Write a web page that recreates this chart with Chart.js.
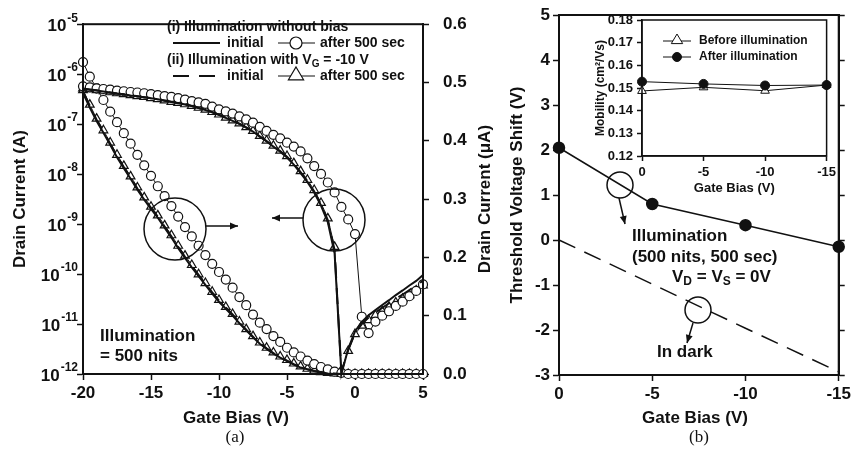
<!DOCTYPE html>
<html>
<head>
<meta charset="utf-8">
<script src="https://cdn.jsdelivr.net/npm/chart.js@4.4.1/dist/chart.umd.min.js"></script>
<style>
  body { margin: 0; background: #fff; width: 851px; height: 453px; overflow: hidden; position: relative; }
  canvas { position: absolute; }
  #chartA { left: 0; top: 0; }
  #chartB { left: 497px; top: 0; }
  #chartInset { left: 590px; top: 8px; }
</style>
</head>
<body>
<canvas id="chartA" width="500" height="453"></canvas>
<canvas id="chartB" width="357" height="453"></canvas>
<canvas id="chartInset" width="250" height="192"></canvas>
<script>
const INK = '#111';
const FONT = '"Liberation Sans", Arial, Helvetica, sans-serif';
Chart.defaults.font.family = FONT;
Chart.defaults.color = INK;

// ---- (a) transfer curves, gate bias in V ----
const gateBias = [-20,-19.5,-19,-18.5,-18,-17.5,-17,-16.5,-16,-15.5,-15,-14.5,-14,-13.5,-13,-12.5,-12,-11.5,-11,-10.5,
  -10,-9.5,-9,-8.5,-8,-7.5,-7,-6.5,-6,-5.5,-5,-4.5,-4,-3.5,-3,-2.5,-2,-1.5,-1,-0.5,0,0.5,1,1.5,2,2.5,3,3.5,4,4.5,5];

// drain current (A), log axis
const logInitNoBias = [5.1e-7,4.9e-7,4.7e-7,4.5e-7,4.3e-7,4.1e-7,3.95e-7,3.75e-7,3.6e-7,3.45e-7,3.3e-7,3.15e-7,2.95e-7,2.78e-7,2.62e-7,2.46e-7,2.3e-7,2.1e-7,1.92e-7,1.72e-7,
  1.53e-7,1.33e-7,1.16e-7,1.01e-7,8.5e-8,7.1e-8,5.6e-8,4.5e-8,3.55e-8,2.8e-8,2.15e-8,1.55e-8,1.05e-8,7.0e-9,4.3e-9,2.35e-9,1.1e-9,2.6e-10,1.0e-12,3.2e-12,
  7.1e-12,1.1e-11,1.5e-11,1.9e-11,2.4e-11,3.0e-11,3.8e-11,4.7e-11,5.9e-11,7.3e-11,9.6e-11];
const logAfterNoBias = [5.7e-7,5.45e-7,5.2e-7,5.05e-7,4.9e-7,4.7e-7,4.55e-7,4.4e-7,4.3e-7,4.15e-7,3.98e-7,3.8e-7,3.64e-7,3.5e-7,3.33e-7,3.1e-7,2.9e-7,2.72e-7,2.55e-7,2.25e-7,
  1.98e-7,1.8e-7,1.63e-7,1.43e-7,1.24e-7,1.07e-7,8.8e-8,7.3e-8,6.1e-8,5.2e-8,4.25e-8,3.55e-8,2.84e-8,2.07e-8,1.45e-8,1.01e-8,6.8e-9,4.3e-9,2.2e-9,1.24e-9,
  6.3e-10,1.4e-11,6.6e-12,1.12e-11,1.47e-11,1.8e-11,2.3e-11,2.8e-11,3.6e-11,4.6e-11,6.2e-11];
const logInitBias = [5.15e-7,4.95e-7,4.75e-7,4.52e-7,4.32e-7,4.12e-7,3.97e-7,3.78e-7,3.62e-7,3.47e-7,3.31e-7,3.16e-7,2.96e-7,2.79e-7,2.64e-7,2.48e-7,2.31e-7,2.11e-7,1.93e-7,1.73e-7,
  1.54e-7,1.34e-7,1.17e-7,1.02e-7,8.6e-8,7.2e-8,5.7e-8,4.6e-8,3.6e-8,2.88e-8,2.22e-8,1.6e-8,1.1e-8,7.3e-9,4.5e-9,2.5e-9,1.2e-9,3.0e-10,1.1e-12,3.0e-12,
  6.6e-12,1.0e-11,1.35e-11,1.7e-11,2.1e-11,2.6e-11,3.2e-11,3.9e-11,4.8e-11,5.9e-11,7.4e-11];
const logAfterBias = [5.2e-7,5.0e-7,4.8e-7,4.55e-7,4.35e-7,4.15e-7,4.0e-7,3.8e-7,3.65e-7,3.5e-7,3.33e-7,3.18e-7,2.98e-7,2.8e-7,2.66e-7,2.5e-7,2.33e-7,2.13e-7,1.95e-7,1.75e-7,
  1.56e-7,1.35e-7,1.19e-7,1.04e-7,8.7e-8,7.3e-8,5.8e-8,4.7e-8,3.7e-8,2.95e-8,2.3e-8,1.66e-8,1.15e-8,7.7e-9,4.8e-9,2.65e-9,1.3e-9,3.5e-10,1.2e-12,2.9e-12,
  6.3e-12,9.3e-12,1.2e-11,1.5e-11,1.8e-11,2.2e-11,2.7e-11,3.2e-11,3.8e-11,4.7e-11,5.9e-11];

// drain current (uA), linear axis
const linInitNoBias = [0.482,0.457,0.434,0.414,0.393,0.372,0.353,0.335,0.316,0.299,0.283,0.268,0.251,0.234,0.216,0.199,0.183,0.168,0.153,0.138,
  0.124,0.112,0.1,0.087,0.075,0.063,0.052,0.043,0.035,0.028,0.022,0.016,0.011,0.008,0.005,0.003,0.001,0,0,0,
  0,0,0,0,0,0,0,0,0,0,0];
const linAfterNoBias = [0.535,0.51,0.49,0.47,0.45,0.432,0.413,0.395,0.376,0.358,0.34,0.322,0.305,0.288,0.27,0.252,0.236,0.22,0.204,0.189,
  0.175,0.162,0.148,0.132,0.118,0.102,0.088,0.077,0.065,0.055,0.045,0.037,0.03,0.023,0.017,0.012,0.008,0.004,0.002,0,
  0,0,0,0,0,0,0,0,0,0,0];
const linInitBias = [0.485,0.46,0.436,0.416,0.395,0.374,0.355,0.337,0.318,0.301,0.285,0.27,0.253,0.236,0.218,0.201,0.185,0.17,0.155,0.14,
  0.126,0.114,0.102,0.089,0.076,0.064,0.053,0.044,0.036,0.029,0.023,0.017,0.012,0.008,0.005,0.003,0.002,0.001,0,0,
  0,0,0,0,0,0,0,0,0,0,0];
const linAfterBias = [0.487,0.462,0.438,0.418,0.397,0.376,0.357,0.339,0.32,0.303,0.287,0.272,0.255,0.238,0.22,0.203,0.187,0.171,0.156,0.141,
  0.127,0.115,0.103,0.09,0.077,0.065,0.054,0.045,0.037,0.03,0.024,0.018,0.013,0.009,0.006,0.003,0.002,0.001,0,0,
  0,0,0,0,0,0,0,0,0,0,0];

const logExponents = [-12,-11,-10,-9,-8,-7,-6,-5];

// ---- (b) threshold voltage shift ----
const stressBias = [0, -5, -10, -15];
const shiftIllum = [2.05, 0.80, 0.33, -0.15];
const shiftDark = [0, -0.98, -1.96, -2.93];
const mobilityBefore = [0.1487, 0.1503, 0.1488, 0.1513];
const mobilityAfter = [0.1528, 0.1518, 0.1511, 0.1513];

const pts = (xs, ys) => xs.map((x, i) => ({x: x, y: ys[i]}));
const bold = (size) => ({family: FONT, size: size, weight: 'bold'});
const tickGrid = {display: true, drawOnChartArea: false, drawTicks: true, tickLength: 6, color: INK, tickWidth: 1.5};
const border2 = {display: true, color: INK, width: 2};

function line(data, axis, dash) {
  return {data: data, yAxisID: axis, borderColor: INK, borderWidth: 2, borderDash: dash || [],
    pointRadius: 0, clip: false, tension: 0};
}
function marked(data, axis, style) {
  return {data: data, yAxisID: axis, borderColor: INK, borderWidth: 1, pointStyle: style,
    pointRadius: style === 'triangle' ? 5 : 4.5, pointBorderWidth: 1.2, pointBackgroundColor: '#fff',
    pointBorderColor: INK, clip: false, tension: 0};
}

function txt(ctx, s, x, y, size, align) {
  ctx.font = 'bold ' + size + 'px ' + FONT;
  ctx.textAlign = align || 'left';
  ctx.textBaseline = 'middle';
  ctx.fillText(s, x, y);
}
// parts: [text, isSubscript]
function richText(ctx, parts, x, y, size) {
  let cx = x;
  ctx.textAlign = 'left';
  ctx.textBaseline = 'middle';
  parts.forEach(([s, sub]) => {
    ctx.font = 'bold ' + (sub ? Math.round(size * 0.68) : size) + 'px ' + FONT;
    ctx.fillText(s, cx, y + (sub ? size * 0.3 : 0));
    cx += ctx.measureText(s).width;
  });
}
function arrow(ctx, x1, y1, x2, y2) {
  ctx.beginPath(); ctx.moveTo(x1, y1); ctx.lineTo(x2, y2); ctx.stroke();
  const a = Math.atan2(y2 - y1, x2 - x1), L = 8, W = 3.5;
  ctx.beginPath();
  ctx.moveTo(x2, y2);
  ctx.lineTo(x2 - L * Math.cos(a) + W * Math.sin(a), y2 - L * Math.sin(a) - W * Math.cos(a));
  ctx.lineTo(x2 - L * Math.cos(a) - W * Math.sin(a), y2 - L * Math.sin(a) + W * Math.cos(a));
  ctx.closePath(); ctx.fill();
}
function ring(ctx, x, y, r) {
  ctx.beginPath(); ctx.arc(x, y, r, 0, Math.PI * 2); ctx.stroke();
}
function marker(ctx, style, x, y, r, fill) {
  ctx.beginPath();
  if (style === 'triangle') {
    ctx.moveTo(x, y - r); ctx.lineTo(x + r * 0.95, y + r * 0.6); ctx.lineTo(x - r * 0.95, y + r * 0.6); ctx.closePath();
  } else {
    ctx.arc(x, y, r, 0, Math.PI * 2);
  }
  ctx.fillStyle = fill; ctx.fill(); ctx.stroke(); ctx.fillStyle = INK;
}

const decorA = {
  id: 'decorA',
  afterDraw(chart) {
    const ctx = chart.ctx, a = chart.chartArea, s = chart.scales.yLog;
    ctx.save();
    ctx.strokeStyle = INK; ctx.fillStyle = INK; ctx.lineWidth = 2;
    ctx.strokeRect(a.left, a.top, a.right - a.left, a.bottom - a.top);

    // 10^n labels
    logExponents.forEach((e) => {
      const y = s.getPixelForValue(Math.pow(10, e));
      ctx.font = 'bold 12px ' + FONT;
      const ew = ctx.measureText(String(e)).width;
      txt(ctx, String(e), 78, y - 6, 12, 'right');
      txt(ctx, '10', 78 - ew - 1, y + 2, 17, 'right');
    });

    // right axis title, reading bottom to top
    ctx.save();
    ctx.translate(485, (a.top + a.bottom) / 2);
    ctx.rotate(-Math.PI / 2);
    txt(ctx, 'Drain Current (\u03bcA)', 0, 0, 17, 'center');
    ctx.restore();

    txt(ctx, 'Gate Bias (V)', 236, 418, 17, 'center');
    ctx.font = '17px "Liberation Serif", "Times New Roman", serif';
    ctx.textAlign = 'center';
    ctx.fillText('(a)', 235, 438);

    // legend
    txt(ctx, '(i) Illumination without bias', 167, 27, 14);
    ctx.lineWidth = 2;
    ctx.beginPath(); ctx.moveTo(173, 43); ctx.lineTo(220, 43); ctx.stroke();
    txt(ctx, 'initial', 227, 43, 14);
    ctx.lineWidth = 1.2;
    ctx.beginPath(); ctx.moveTo(278, 43); ctx.lineTo(315, 43); ctx.stroke();
    marker(ctx, 'circle', 296, 43, 6, '#fff');
    txt(ctx, 'after 500 sec', 320, 43, 14);
    richText(ctx, [['(ii) Illumination with V', false], ['G', true], [' = -10 V', false]], 167, 60, 14);
    ctx.lineWidth = 2;
    ctx.setLineDash([16, 10]);
    ctx.beginPath(); ctx.moveTo(173, 76); ctx.lineTo(220, 76); ctx.stroke();
    ctx.setLineDash([]);
    txt(ctx, 'initial', 227, 76, 14);
    ctx.lineWidth = 1.2;
    ctx.beginPath(); ctx.moveTo(278, 76); ctx.lineTo(315, 76); ctx.stroke();
    marker(ctx, 'triangle', 296, 75, 8, '#fff');
    txt(ctx, 'after 500 sec', 320, 76, 14);

    // annotations
    ctx.lineWidth = 1.5;
    ring(ctx, 175, 229, 31);
    arrow(ctx, 206, 226, 238, 226);
    ring(ctx, 334, 220, 31);
    arrow(ctx, 303, 218, 272, 218);
    txt(ctx, 'Illumination', 100, 336, 17);
    txt(ctx, '= 500 nits', 100, 356, 17);
    ctx.restore();
  }
};

new Chart(document.getElementById('chartA'), {
  type: 'line',
  data: {
    datasets: [
      line(pts(gateBias, logInitNoBias), 'yLog'),
      line(pts(gateBias, linInitNoBias), 'yLin'),
      line(pts(gateBias, logInitBias), 'yLog', [16, 10]),
      line(pts(gateBias, linInitBias), 'yLin', [16, 10]),
      marked(pts(gateBias, logAfterNoBias), 'yLog', 'circle'),
      marked(pts(gateBias, linAfterNoBias), 'yLin', 'circle'),
      marked(pts(gateBias, logAfterBias), 'yLog', 'triangle'),
      marked(pts(gateBias, linAfterBias), 'yLin', 'triangle')
    ]
  },
  options: {
    responsive: false, animation: false,
    layout: {padding: {top: 14, left: 0, right: 0, bottom: 0}},
    plugins: {legend: {display: false}, tooltip: {enabled: false}},
    scales: {
      x: {type: 'linear', min: -20, max: 5,
        ticks: {stepSize: 5, font: bold(17), color: INK, padding: 3},
        grid: tickGrid, border: border2,
        afterFit(sc) { sc.height = 79; }},
      yLog: {type: 'logarithmic', position: 'left', min: 1e-12, max: 1e-5,
        afterBuildTicks(sc) { sc.ticks = logExponents.map((e) => ({value: Math.pow(10, e)})); },
        ticks: {display: false},
        grid: tickGrid, border: border2,
        title: {display: true, text: 'Drain Current (A)', font: bold(17), color: INK, padding: {top: 10, bottom: 0}},
        afterFit(sc) { sc.width = 83; }},
      yLin: {type: 'linear', position: 'right', min: 0, max: 0.6,
        ticks: {stepSize: 0.1, font: bold(17), color: INK, padding: 14, callback: (v) => v.toFixed(1)},
        grid: tickGrid, border: border2,
        afterFit(sc) { sc.width = 77; }}
    }
  },
  plugins: [decorA]
});

const decorB = {
  id: 'decorB',
  afterDraw(chart) {
    const ctx = chart.ctx, a = chart.chartArea;
    ctx.save();
    ctx.strokeStyle = INK; ctx.fillStyle = INK; ctx.lineWidth = 2;
    ctx.strokeRect(a.left, a.top, a.right - a.left, a.bottom - a.top);
    ctx.translate(-497, 0);
    txt(ctx, 'Gate Bias (V)', 695, 418, 17, 'center');
    ctx.font = '17px "Liberation Serif", "Times New Roman", serif';
    ctx.textAlign = 'center';
    ctx.fillText('(b)', 699, 438);
    ctx.lineWidth = 1.5;
    ring(ctx, 620, 185, 13);
    arrow(ctx, 619, 198, 625, 224);
    txt(ctx, 'Illumination', 632, 236, 17);
    txt(ctx, '(500 nits, 500 sec)', 632, 257, 17);
    richText(ctx, [['V', false], ['D', true], [' = V', false], ['S', true], [' = 0V', false]], 672, 277, 17);
    ring(ctx, 698, 310, 13);
    arrow(ctx, 693, 323, 687, 343);
    txt(ctx, 'In dark', 657, 352, 17);
    ctx.restore();
  }
};

new Chart(document.getElementById('chartB'), {
  type: 'line',
  data: {
    datasets: [
      {data: pts(stressBias, shiftIllum), borderColor: INK, borderWidth: 1.5, pointRadius: 5.5,
        pointBackgroundColor: INK, pointBorderColor: INK, clip: false, tension: 0},
      {data: pts(stressBias, shiftDark), borderColor: INK, borderWidth: 1.5, borderDash: [18, 10],
        pointRadius: 0, clip: false, tension: 0}
    ]
  },
  options: {
    responsive: false, animation: false,
    layout: {padding: {top: 15, left: 0, right: 0, bottom: 0}},
    plugins: {legend: {display: false}, tooltip: {enabled: false}},
    scales: {
      x: {type: 'linear', min: -15, max: 0, reverse: true,
        ticks: {stepSize: 5, font: bold(17), color: INK, padding: 3},
        grid: tickGrid, border: border2,
        afterFit(sc) { sc.height = 78; }},
      y: {type: 'linear', position: 'left', min: -3, max: 5,
        ticks: {stepSize: 1, font: bold(17), color: INK, padding: 3},
        grid: tickGrid, border: border2,
        title: {display: true, text: 'Threshold Voltage Shift (V)', font: bold(17), color: INK, padding: {top: 10, bottom: 0}},
        afterFit(sc) { sc.width = 62; }},
      y2: {type: 'linear', position: 'right', min: -3, max: 5,
        ticks: {stepSize: 1, display: false},
        grid: tickGrid, border: border2,
        afterFit(sc) { sc.width = 14; }}
    }
  },
  plugins: [decorB]
});

const decorInset = {
  id: 'decorInset',
  afterDraw(chart) {
    const ctx = chart.ctx, a = chart.chartArea;
    ctx.save();
    ctx.strokeStyle = INK; ctx.fillStyle = INK; ctx.lineWidth = 1.5;
    ctx.strokeRect(a.left, a.top, a.right - a.left, a.bottom - a.top);
    ctx.translate(-590, -8);
    ctx.lineWidth = 1;
    ctx.beginPath(); ctx.moveTo(663, 41); ctx.lineTo(691, 41); ctx.stroke();
    marker(ctx, 'triangle', 677, 40, 6, '#fff');
    txt(ctx, 'Before illumination', 699, 41, 12);
    ctx.beginPath(); ctx.moveTo(663, 57); ctx.lineTo(691, 57); ctx.stroke();
    marker(ctx, 'circle', 677, 57, 4.5, INK);
    txt(ctx, 'After illumination', 699, 57, 12);
    ctx.restore();
  }
};

new Chart(document.getElementById('chartInset'), {
  type: 'line',
  data: {
    datasets: [
      {data: pts(stressBias, mobilityAfter), borderColor: INK, borderWidth: 1, pointRadius: 4.5,
        pointBackgroundColor: INK, pointBorderColor: INK, clip: false, tension: 0},
      {data: pts(stressBias, mobilityBefore), borderColor: INK, borderWidth: 1, pointStyle: 'triangle', pointRadius: 5,
        pointBackgroundColor: '#fff', pointBorderColor: INK, pointBorderWidth: 1, clip: false, tension: 0}
    ]
  },
  options: {
    responsive: false, animation: false,
    layout: {padding: {top: 12, left: 0, right: 10, bottom: 0}},
    plugins: {legend: {display: false}, tooltip: {enabled: false}},
    scales: {
      x: {type: 'linear', min: -15, max: 0, reverse: true,
        ticks: {stepSize: 5, font: bold(13), color: INK, padding: 4},
        grid: Object.assign({}, tickGrid, {tickLength: 5}), border: {display: true, color: INK, width: 1.5},
        title: {display: true, text: 'Gate Bias (V)', font: bold(13), color: INK, padding: {top: 0, bottom: 4}},
        afterFit(sc) { sc.height = 44; }},
      y: {type: 'linear', position: 'left', min: 0.12, max: 0.18,
        ticks: {stepSize: 0.01, font: bold(13), color: INK, padding: 4, callback: (v) => v.toFixed(2)},
        grid: Object.assign({}, tickGrid, {tickLength: 5}), border: {display: true, color: INK, width: 1.5},
        title: {display: true, text: 'Mobility (cm\u00b2/Vs)', font: bold(12), color: INK, padding: {top: 3, bottom: 0}},
        afterFit(sc) { sc.width = 52; }}
    }
  },
  plugins: [decorInset]
});
</script>
</body>
</html>
